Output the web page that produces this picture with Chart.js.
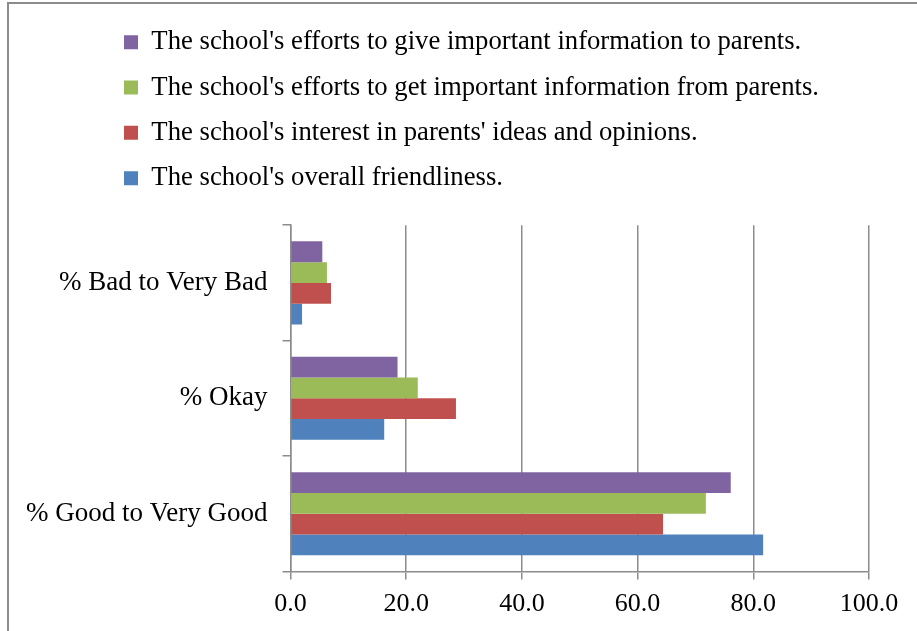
<!DOCTYPE html>
<html><head><meta charset="utf-8">
<script src="https://cdn.jsdelivr.net/npm/chart.js@4"></script>
<style>
html,body{margin:0;padding:0;background:#fff;overflow:hidden;width:917px;height:631px;}
#frame{position:absolute;left:7px;top:2px;width:1000px;height:1000px;border:2px solid #8c8c8c;box-sizing:border-box;}
#wrap{position:absolute;left:0;top:0;width:917px;height:631px;}
</style></head><body>
<div id="frame"></div>
<div id="wrap"><canvas id="c"></canvas></div>
<script>
const categories = ['% Bad to Very Bad', '% Okay', '% Good to Very Good'];
const seriesNames = [
  "The school's efforts to give important information to parents.",
  "The school's efforts to get important information from parents.",
  "The school's interest in parents' ideas and opinions.",
  "The school's overall friendliness."
];
const infoToParents   = [5.5, 18.5, 76.1];
const infoFromParents = [6.3, 22.0, 71.8];
const interestInIdeas = [7.0, 28.6, 64.4];
const friendliness    = [2.0, 16.2, 81.7];
const xTickValues = [0, 20, 40, 60, 80, 100];
const seriesColors = ['#8064A2', '#9BBB59', '#C0504D', '#4F81BD'];

const seriesValues = [infoToParents, infoFromParents, interestInIdeas, friendliness];
const FONT = 'Liberation Serif';
const gridColor = '#8c8c8c';

const legendShift = {
  id: 'legendShift',
  afterLayout(chart) {
    if (chart.legend) { chart.legend.left = 105.4; chart.legend.top = 10.3; }
  }
};

new Chart(document.getElementById('c'), {
  type: 'bar',
  data: {
    labels: categories,
    datasets: seriesNames.map((name, i) => ({
      label: name,
      data: seriesValues[i],
      backgroundColor: seriesColors[i],
      borderWidth: 0,
      categoryPercentage: 0.72,
      barPercentage: 1.0
    }))
  },
  options: {
    indexAxis: 'y',
    responsive: true,
    maintainAspectRatio: false,
    animation: false,
    layout: { padding: { top: 34, right: 48, bottom: 3, left: 0 } },
    plugins: {
      legend: {
        position: 'top',
        align: 'start',
        labels: {
          boxWidth: 14, boxHeight: 14, padding: 18.6,
          color: '#000',
          font: { family: FONT, size: 26.7 }
        }
      },
      tooltip: { enabled: false }
    },
    scales: {
      x: {
        min: 0, max: 100,
        afterBuildTicks(scale) { scale.ticks = xTickValues.map(v => ({ value: v })); },
        ticks: {
          color: '#000', padding: 10,
          font: { family: FONT, size: 26, lineHeight: 1.1 },
          callback: v => Number(v).toFixed(1)
        },
        grid: { color: gridColor, lineWidth: 1.5, tickLength: 8, drawTicks: true },
        border: { color: gridColor, width: 1.5 }
      },
      y: {
        afterFit(scale) { scale.width = 290.5; },
        ticks: {
          color: '#000', padding: 15,
          font: { family: FONT, size: 27 }
        },
        grid: { color: gridColor, lineWidth: 1.5, tickLength: 8, drawOnChartArea: false, offset: true },
        border: { color: gridColor, width: 1.5 }
      }
    }
  },
  plugins: [legendShift]
});
</script>
</body></html>
